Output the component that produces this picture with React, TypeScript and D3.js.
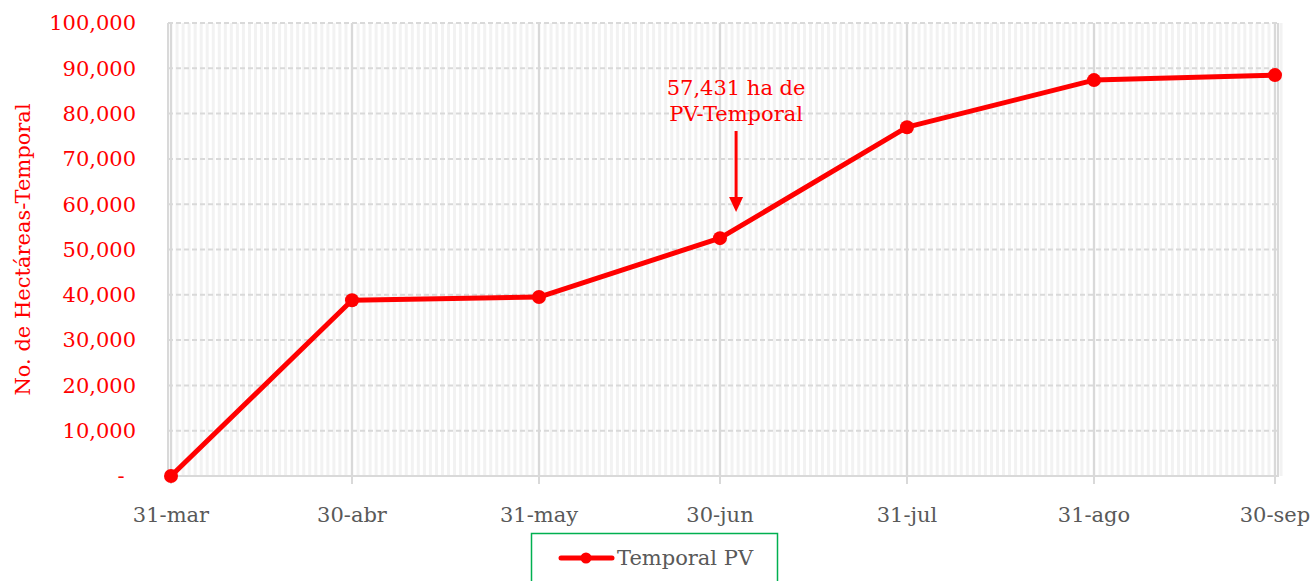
import { useEffect, useRef } from "react";
import * as d3 from "d3";

// cumulative hectares, PV-Temporal
const dates = ["2023-03-31", "2023-04-30", "2023-05-31", "2023-06-30", "2023-07-31", "2023-08-31", "2023-09-30"];
const tickLabels = ["31-mar", "30-abr", "31-may", "30-jun", "31-jul", "31-ago", "30-sep"];
const hectares = [0, 38800, 39500, 52500, 77000, 87400, 88500];
const yTicks = [0, 10000, 20000, 30000, 40000, 50000, 60000, 70000, 80000, 90000, 100000];
const annotationLines = ["57,431 ha de", "PV-Temporal"];
const annotationDate = "2023-07-03";
const seriesName = "Temporal PV";

const W = 1314;
const H = 581;
const M = { top: 23, right: 36, bottom: 105, left: 168 };
const FONT = "'DejaVu Serif', 'Liberation Serif', serif";
const FS = 21;
const RED = "#ff0000";
const GREY = "#595959";

const parse = d3.utcParse("%Y-%m-%d");

export default function App() {
  const svgRef = useRef<SVGSVGElement | null>(null);

  useEffect(() => {
    const svg = d3.select(svgRef.current);
    svg.selectAll("*").remove();

    const pts = dates.map((d, i) => ({ date: parse(d)!, v: hectares[i] }));
    const start = d3.utcHour.offset(pts[0].date, -12);
    const end = d3.utcHour.offset(pts[pts.length - 1].date, 12);
    const x = d3.scaleUtc().domain([start, end]).range([M.left, W - M.right]);
    const y = d3.scaleLinear().domain([0, 100000]).range([H - M.bottom, M.top]);
    const x0 = M.left;
    const x1 = W - M.right;
    const yb = H - M.bottom;

    // daily minor gridlines
    const days = d3.utcDay.range(pts[0].date, d3.utcDay.offset(end, 1));
    svg
      .append("g")
      .selectAll("line")
      .data(days)
      .join("line")
      .attr("x1", (d) => x(d))
      .attr("x2", (d) => x(d))
      .attr("y1", M.top)
      .attr("y2", yb)
      .attr("stroke", "#f2f2f2")
      .attr("stroke-width", 3);

    // horizontal dashed gridlines
    svg
      .append("g")
      .selectAll("line")
      .data(yTicks)
      .join("line")
      .attr("x1", x0)
      .attr("x2", x1)
      .attr("y1", (d) => y(d))
      .attr("y2", (d) => y(d))
      .attr("stroke", "#d9d9d9")
      .attr("stroke-width", 2)
      .attr("stroke-dasharray", "5,3");

    // month gridlines + ticks
    svg
      .append("g")
      .selectAll("line")
      .data(pts)
      .join("line")
      .attr("x1", (d) => x(d.date))
      .attr("x2", (d) => x(d.date))
      .attr("y1", M.top)
      .attr("y2", yb + 8)
      .attr("stroke", "#d9d9d9")
      .attr("stroke-width", 2);

    // frame left / bottom / right
    svg
      .append("path")
      .attr("d", `M${x0},${M.top}V${yb}H${x1}V${M.top}`)
      .attr("fill", "none")
      .attr("stroke", "#d9d9d9")
      .attr("stroke-width", 2);

    // y labels
    svg
      .append("g")
      .selectAll("text")
      .data(yTicks)
      .join("text")
      .attr("x", (d) => (d === 0 ? 121 : 136))
      .attr("y", (d) => y(d))
      .attr("dy", "0.35em")
      .attr("text-anchor", (d) => (d === 0 ? "middle" : "end"))
      .attr("font-family", FONT)
      .attr("font-size", FS)
      .attr("fill", RED)
      .text((d) => (d === 0 ? "-" : d3.format(",")(d)));

    // x labels
    svg
      .append("g")
      .selectAll("text")
      .data(pts)
      .join("text")
      .attr("x", (d) => x(d.date))
      .attr("y", 522)
      .attr("text-anchor", "middle")
      .attr("font-family", FONT)
      .attr("font-size", FS)
      .attr("fill", GREY)
      .text((_d, i) => tickLabels[i]);

    // y title
    svg
      .append("text")
      .attr("transform", `translate(30,${(M.top + yb) / 2}) rotate(-90)`)
      .attr("text-anchor", "middle")
      .attr("font-family", FONT)
      .attr("font-size", FS)
      .attr("fill", RED)
      .text("No. de Hectáreas-Temporal");

    // series
    const line = d3
      .line<{ date: Date; v: number }>()
      .x((d) => x(d.date))
      .y((d) => y(d.v));
    svg
      .append("path")
      .datum(pts)
      .attr("d", line)
      .attr("fill", "none")
      .attr("stroke", RED)
      .attr("stroke-width", 5)
      .attr("stroke-linejoin", "round");
    svg
      .append("g")
      .selectAll("circle")
      .data(pts)
      .join("circle")
      .attr("cx", (d) => x(d.date))
      .attr("cy", (d) => y(d.v))
      .attr("r", 7)
      .attr("fill", RED);

    // annotation
    const ax = x(parse(annotationDate)!) - 2;
    svg
      .append("g")
      .selectAll("text")
      .data(annotationLines)
      .join("text")
      .attr("x", ax)
      .attr("y", (_d, i) => 95 + i * 26)
      .attr("text-anchor", "middle")
      .attr("font-family", FONT)
      .attr("font-size", FS)
      .attr("fill", RED)
      .text((d) => d);
    svg
      .append("line")
      .attr("x1", ax)
      .attr("x2", ax)
      .attr("y1", 131)
      .attr("y2", 200)
      .attr("stroke", RED)
      .attr("stroke-width", 3);
    svg
      .append("path")
      .attr("d", `M${ax - 7},${197}L${ax + 7},${197}L${ax},${212}Z`)
      .attr("fill", RED);

    // legend
    const lg = svg.append("g");
    lg.append("rect")
      .attr("x", 531.5)
      .attr("y", 533.5)
      .attr("width", 246)
      .attr("height", 60)
      .attr("fill", "#fff")
      .attr("stroke", "#00b050")
      .attr("stroke-width", 1.5);
    lg.append("line")
      .attr("x1", 561)
      .attr("x2", 612)
      .attr("y1", 558)
      .attr("y2", 558)
      .attr("stroke", RED)
      .attr("stroke-width", 5)
      .attr("stroke-linecap", "round");
    lg.append("circle").attr("cx", 586).attr("cy", 558).attr("r", 5.5).attr("fill", RED);
    lg.append("text")
      .attr("x", 617)
      .attr("y", 558)
      .attr("dy", "0.35em")
      .attr("font-family", FONT)
      .attr("font-size", FS)
      .attr("fill", GREY)
      .text(seriesName);
  }, []);

  return <svg ref={svgRef} width={W} height={H} style={{ position: "absolute", left: 0, top: 0 }} />;
}
